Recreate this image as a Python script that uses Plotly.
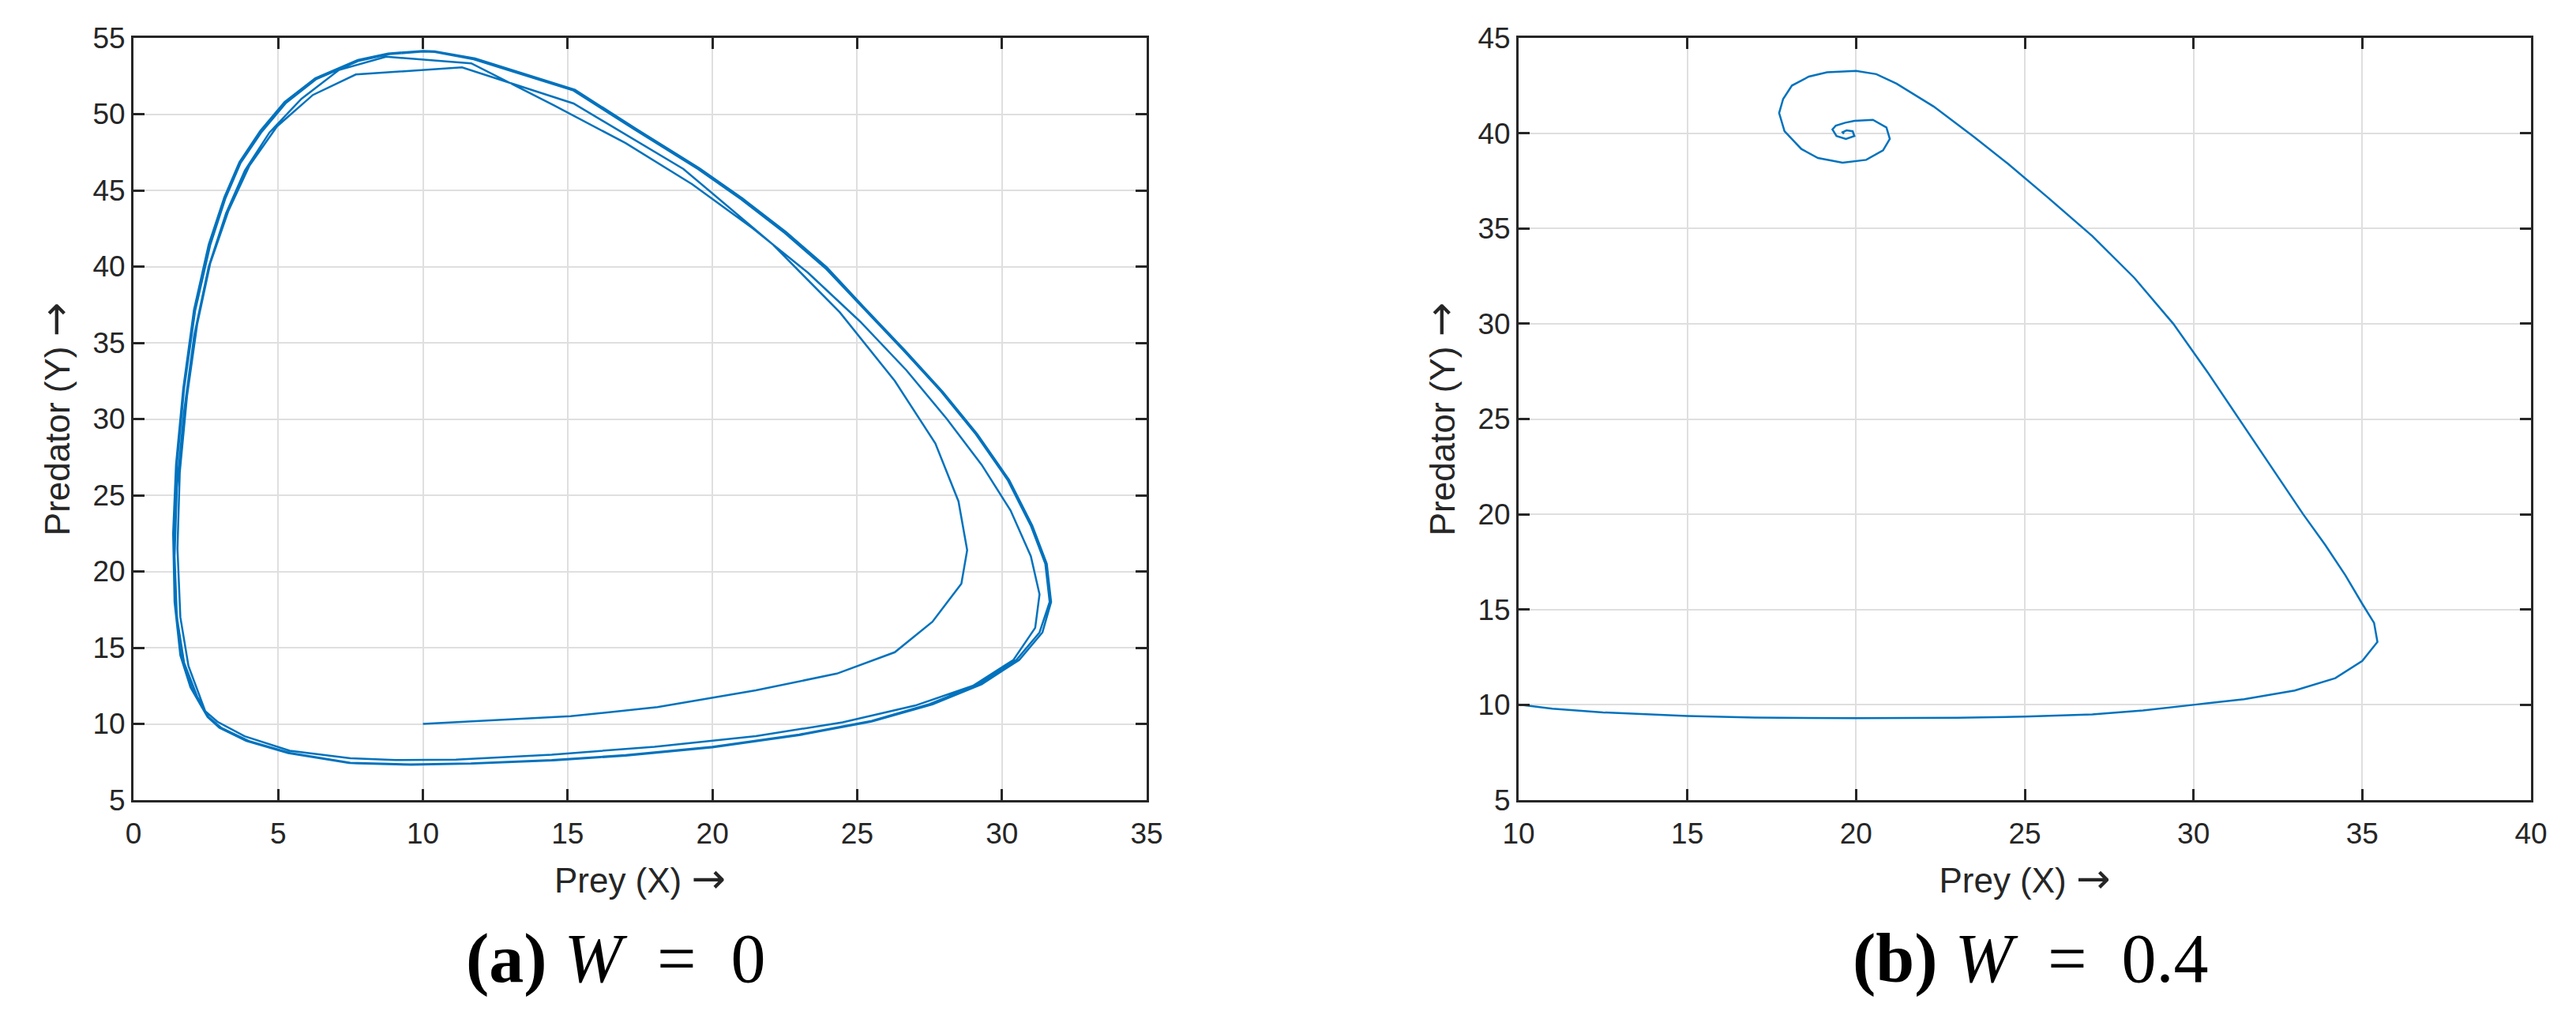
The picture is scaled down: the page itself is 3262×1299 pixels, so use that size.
import plotly.graph_objects as go

# ---- data (W = 0, limit cycle) ----
a_x = [10, 15.1, 18.1, 21.5, 24.3, 26.3, 27.6, 28.6, 28.8, 28.5, 27.7, 26.3, 24.4, 22.06, 19.0, 15.2, 11.35,
       7.68, 6.2, 4.96, 4.0, 3.28, 2.65, 2.2, 1.85, 1.6, 1.52, 1.62, 1.9, 2.48, 2.9, 3.84, 5.4, 7.49, 9.05, 11.14, 14.45,
       18, 21.5, 24.5, 27, 29, 30.4, 31.15, 31.3, 31.0, 30.3, 29.3, 28.1, 26.7, 25.1, 23.3, 21.4, 19.3, 17.0, 14.5, 11.67,
       8.73, 7.1, 5.8, 4.7, 3.85, 3.2, 2.6, 2.1, 1.75, 1.5, 1.42, 1.5, 1.75, 2.2, 2.59,
       3.0, 3.94, 5.4, 7.49, 9.57, 11.66, 14.45, 17, 20, 23, 25.5, 27.5, 29.2, 30.5, 31.3, 31.65, 31.5, 31.0, 30.2,
       29.1, 27.9, 26.6, 25.2, 23.9, 22.5, 21.0, 19.5, 17.3, 15.2, 12.6, 11.75, 10.4, 10, 8.84, 7.79, 6.32, 5.27, 4.43,
       3.7, 3.18, 2.65, 2.13, 1.75, 1.5, 1.4, 1.45, 1.65, 2.0, 2.59,
       3.05, 4.0, 5.45, 7.5, 9.6, 11.7, 14.5, 17, 20, 23, 25.5, 27.6, 29.3, 30.6, 31.4, 31.7, 31.55, 31.05, 30.25,
       29.15, 27.95, 26.65, 25.25, 23.95, 22.55, 21.05, 19.55, 17.35, 15.25, 12.65, 11.8, 10.4, 10, 8.8, 7.75, 6.28,
       5.22, 4.38, 3.66, 3.14, 2.6, 2.09, 1.72, 1.47, 1.37, 1.42, 1.62, 1.97, 2.56, 2.97, 3.9, 5.35, 7.45, 9.55]
a_y = [10, 10.5, 11.1, 12.2, 13.3, 14.7, 16.7, 19.2, 21.4, 24.6, 28.4, 32.5, 37.0, 41.5, 46.4, 50.7, 53.07,
       52.6, 51.26, 49.2, 46.6, 43.66, 40.2, 36.2, 31.5, 26.5, 21.5, 17, 13.8, 10.83, 10.14, 9.19, 8.24, 7.75, 7.63, 7.66, 7.98,
       8.5, 9.2, 10.1, 11.2, 12.5, 14.2, 16.3, 18.5, 21, 24, 27, 30, 33.2, 36.4, 39.6, 42.5, 45.4, 48.1, 50.6, 53.33,
       53.77, 52.9, 51.0, 48.8, 46.3, 43.5, 40, 35.5, 30.5, 25.5, 21, 17, 14, 11.8, 10.45,
       9.77, 8.9, 8.1, 7.45, 7.34, 7.41, 7.63, 7.95, 8.5, 9.3, 10.2, 11.3, 12.6, 14.2, 16.0, 18.0, 20.5, 23.0, 26.0,
       29.0, 31.8, 34.5, 37.3, 39.9, 42.2, 44.4, 46.4, 49.0, 51.55, 53.1, 53.6, 54.08, 54.1, 53.94, 53.5, 52.3, 50.74, 48.84,
       46.8, 44.5, 41.4, 37.1, 32, 27, 22.5, 18, 14.5, 12.4, 10.45,
       9.72, 8.86, 8.07, 7.42, 7.32, 7.39, 7.6, 7.92, 8.46, 9.26, 10.15, 11.28, 12.6, 14.2, 16.0, 18.0, 20.5, 23.0, 26.0,
       29.0, 31.8, 34.5, 37.3, 39.95, 42.25, 44.45, 46.45, 49.05, 51.6, 53.15, 53.65, 54.12, 54.15, 53.98, 53.55, 52.35,
       50.8, 48.9, 46.85, 44.55, 41.45, 37.15, 32, 27, 22.5, 18, 14.5, 12.4, 10.45, 9.75, 8.88, 8.08, 7.43, 7.33]

# ---- data (W = 0.4, stable spiral) ----
b_x = [10, 11, 12.5, 15, 17, 20, 23, 25, 27, 28.5, 30, 31.5, 33, 34.2, 35.0, 35.45, 35.35, 35.0, 34.5, 33.9, 33.25,
       32.3, 31.35, 30.4, 29.4, 28.25, 27.0, 25.7, 24.5, 23.5, 22.3, 21.2, 20.6, 20.0, 19.14, 18.6, 18.1, 17.84, 17.72,
       17.88, 18.38, 18.87, 19.6, 20.3, 20.8, 21.0, 20.9, 20.5, 19.95, 19.68, 19.4, 19.3, 19.42, 19.7, 19.95, 19.9,
       19.72, 19.6, 19.64]
b_y = [10.02, 9.8, 9.6, 9.41, 9.33, 9.3, 9.32, 9.38, 9.5, 9.7, 10.0, 10.3, 10.75, 11.4, 12.3, 13.3, 14.3, 15.3, 16.8,
       18.4, 20.0, 22.5, 25.0, 27.5, 30.0, 32.4, 34.6, 36.6, 38.4, 39.8, 41.4, 42.6, 43.1, 43.27, 43.2, 42.97, 42.5,
       41.8, 41.06, 40.1, 39.17, 38.7, 38.45, 38.6, 39.1, 39.7, 40.3, 40.7, 40.65, 40.55, 40.4, 40.2, 39.85, 39.7,
       39.85, 40.1, 40.15, 40.05, 39.97]

x_ticks_a = [0, 5, 10, 15, 20, 25, 30, 35]
y_ticks_a = [5, 10, 15, 20, 25, 30, 35, 40, 45, 50, 55]
x_ticks_b = [10, 15, 20, 25, 30, 35, 40]
y_ticks_b = [5, 10, 15, 20, 25, 30, 35, 40, 45]

captions = ["<b>(a)</b> <i>W</i>  =  0", "<b>(b)</b> <i>W</i>  =  0.4"]
ARROW = "<span style=\"font-family:'DejaVu Sans';font-size:52px\">→</span>"
x_title = "Prey (X) " + ARROW
y_title = "Predator (Y) " + ARROW

W, H = 3262, 1299
LINE = "#0072BD"
AX = "#262626"
GRID = "#dfdfdf"

fig = go.Figure()
fig.add_trace(go.Scatter(x=a_x, y=a_y, mode="lines", line=dict(color=LINE, width=2.5),
                         xaxis="x", yaxis="y", showlegend=False))
fig.add_trace(go.Scatter(x=b_x, y=b_y, mode="lines", line=dict(color=LINE, width=2.5),
                         xaxis="x2", yaxis="y2", showlegend=False))

ydom = [1 - 1013 / H, 1 - 48 / H]
tickfont = dict(family="Liberation Sans, Arial, sans-serif", size=37, color=AX)
titlefont = dict(family="Liberation Sans, Arial, sans-serif", size=44, color=AX)

def axis(dom, rng, ticks, title, anchor, standoff, lab_standoff):
    return dict(domain=dom, range=rng, tickvals=ticks, showline=True, linecolor=AX, linewidth=3,
                mirror="ticks", ticks="inside", ticklen=14, tickwidth=3, tickcolor=AX,
                showgrid=True, gridcolor=GRID, gridwidth=2, zeroline=False,
                tickfont=tickfont, anchor=anchor, automargin=False, ticklabelstandoff=lab_standoff,
                title=dict(text=title, font=titlefont, standoff=standoff))

fig.update_layout(
    width=W, height=H, margin=dict(l=0, r=0, t=0, b=0),
    paper_bgcolor="white", plot_bgcolor="white",
    xaxis=axis([169 / W, 1452 / W], [0, 35], x_ticks_a, x_title, "y", 24, 8),
    yaxis=axis(ydom, [5, 55], y_ticks_a, y_title, "x", 16, 0),
    xaxis2=axis([1923 / W, 3205 / W], [10, 40], x_ticks_b, x_title, "y2", 24, 8),
    yaxis2=axis(ydom, [5, 45], y_ticks_b, y_title, "x2", 16, 0),
)

for cx, txt in zip([780, 2571], captions):
    fig.add_annotation(text=txt, x=cx / W, y=1 - 1213 / H, xref="paper", yref="paper",
                       showarrow=False, xanchor="center", yanchor="middle",
                       font=dict(family="Liberation Serif, DejaVu Serif, serif", size=88, color="black"))

fig.write_html("out.html")
